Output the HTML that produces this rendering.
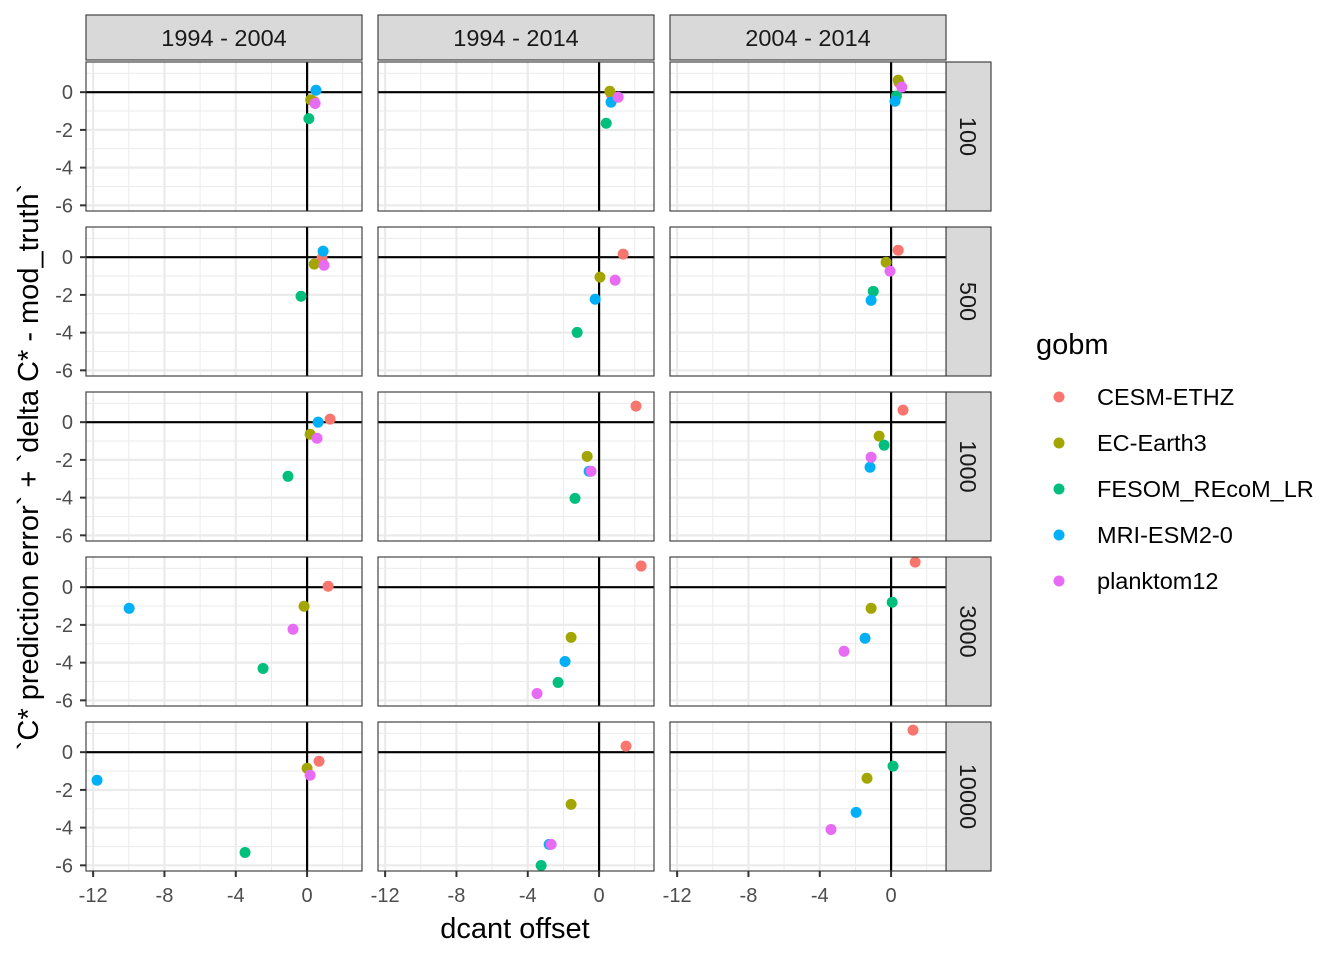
<!DOCTYPE html>
<html><head><meta charset="utf-8"><style>
body{margin:0;background:#fff;}
svg text{font-family:"Liberation Sans",sans-serif;}
</style></head><body>
<svg id="chart" width="1344" height="960" xmlns="http://www.w3.org/2000/svg"></svg>
<script>
const colNames = ["1994 - 2004","1994 - 2014","2004 - 2014"];
const rowNames = ["100","500","1000","3000","10000"];
const seriesNames = ["CESM-ETHZ","EC-Earth3","FESOM_REcoM_LR","MRI-ESM2-0","planktom12"];
const seriesColors = ["#F8766D","#A3A500","#00BF7D","#00B0F6","#E76BF3"];
const xTicks = [-12,-8,-4,0];
const yTicks = [0,-2,-4,-6];
// values[row][col][series] = [x, y]
const row100 = [
 [[0.4,-0.5],[0.2,-0.4],[0.1,-1.4],[0.5,0.1],[0.45,-0.6]],
 [[0.7,-0.15],[0.6,0.05],[0.4,-1.65],[0.67,-0.53],[1.07,-0.27]],
 [[0.45,0.5],[0.4,0.64],[0.3,-0.2],[0.22,-0.48],[0.6,0.27]]];
const row500 = [
 [[0.84,-0.05],[0.4,-0.37],[-0.34,-2.07],[0.9,0.32],[0.95,-0.43]],
 [[1.35,0.16],[0.05,-1.06],[-1.23,-3.99],[-0.22,-2.23],[0.9,-1.22]],
 [[0.4,0.37],[-0.28,-0.27],[-1.0,-1.81],[-1.12,-2.29],[-0.06,-0.74]]];
const row1000 = [
 [[1.29,0.16],[0.17,-0.64],[-1.07,-2.87],[0.62,0],[0.56,-0.85]],
 [[2.07,0.85],[-0.67,-1.81],[-1.35,-4.04],[-0.56,-2.6],[-0.45,-2.6]],
 [[0.67,0.64],[-0.67,-0.74],[-0.39,-1.22],[-1.18,-2.39],[-1.12,-1.86]]];
const row3000 = [
 [[1.18,0.05],[-0.17,-1.01],[-2.47,-4.31],[-9.98,-1.12],[-0.79,-2.23]],
 [[2.36,1.12],[-1.57,-2.66],[-2.3,-5.05],[-1.91,-3.94],[-3.48,-5.64]],
 [[1.35,1.33],[-1.12,-1.12],[0.06,-0.8],[-1.46,-2.71],[-2.64,-3.4]]];
const row10000 = [
 [[0.67,-0.48],[0,-0.85],[-3.48,-5.32],[-11.78,-1.49],[0.17,-1.22]],
 [[1.51,0.32],[-1.57,-2.77],[-3.25,-6.01],[-2.8,-4.89],[-2.69,-4.89]],
 [[1.23,1.17],[-1.35,-1.38],[0.11,-0.74],[-1.96,-3.19],[-3.37,-4.1]]];
const values = [row100,row500,row1000,row3000,row10000];

const NS="http://www.w3.org/2000/svg";
const svg=document.getElementById('chart');
function mk(tag,attrs,parent){const e=document.createElementNS(NS,tag);for(const k in attrs)e.setAttribute(k,attrs[k]);(parent||svg).appendChild(e);return e;}
const colX=[86,378,670], pw=276, rowY=[62,227,392,557,722], ph=149;
const xmin=-12.4, xmax=3.08, ymin=-6.3, ymax=1.6;
function sx(c,v){return colX[c]+(v-xmin)/(xmax-xmin)*pw;}
function sy(r,v){return rowY[r]+(ymax-v)/(ymax-ymin)*ph;}

for(let c=0;c<3;c++){
  const s=mk('rect',{x:colX[c],y:15,width:pw,height:45,fill:'#D9D9D9',stroke:'#333','stroke-width':1.1});
  
  
  const t=mk('text',{x:colX[c]+pw/2,y:46,'text-anchor':'middle','font-size':23.5,fill:'#1A1A1A'});t.textContent=colNames[c];
  
  
}
for(let r=0;r<5;r++){
  const s=mk('rect',{x:946,y:rowY[r],width:45,height:ph,fill:'#D9D9D9',stroke:'#333','stroke-width':1.1});
  
  
  const cx=968,cy=rowY[r]+ph/2;
  const t=mk('text',{x:cx,y:cy,'text-anchor':'middle','dominant-baseline':'central','font-size':23.5,fill:'#1A1A1A',transform:`rotate(90 ${cx} ${cy})`});t.textContent=rowNames[r];
  
  
  for(let c=0;c<3;c++){
    const g=mk('g',{});
    
    
    mk('rect',{x:colX[c],y:rowY[r],width:pw,height:ph,fill:'#fff'},g);
    for(const v of [-10,-6,-2,2]) mk('line',{x1:sx(c,v),x2:sx(c,v),y1:rowY[r],y2:rowY[r]+ph,stroke:'#EBEBEB','stroke-width':1},g);
    for(const v of [1,-1,-3,-5]) mk('line',{x1:colX[c],x2:colX[c]+pw,y1:sy(r,v),y2:sy(r,v),stroke:'#EBEBEB','stroke-width':1},g);
    for(const v of xTicks) mk('line',{x1:sx(c,v),x2:sx(c,v),y1:rowY[r],y2:rowY[r]+ph,stroke:'#EBEBEB','stroke-width':2.2},g);
    for(const v of yTicks) mk('line',{x1:colX[c],x2:colX[c]+pw,y1:sy(r,v),y2:sy(r,v),stroke:'#EBEBEB','stroke-width':2.2},g);
    mk('line',{x1:sx(c,0),x2:sx(c,0),y1:rowY[r],y2:rowY[r]+ph,stroke:'#000','stroke-width':2.2},g);
    mk('line',{x1:colX[c],x2:colX[c]+pw,y1:sy(r,0),y2:sy(r,0),stroke:'#000','stroke-width':2.2},g);
    for(let s2=0;s2<5;s2++){
      const p=values[r][c][s2];
      const pt=mk('circle',{cx:sx(c,p[0]),cy:sy(r,p[1]),r:5.5,fill:seriesColors[s2]},g);
      
      
    }
    mk('rect',{x:colX[c],y:rowY[r],width:pw,height:ph,fill:'none',stroke:'#333','stroke-width':1.1});
  }
  for(const v of yTicks){
    mk('line',{x1:80,x2:86,y1:sy(r,v),y2:sy(r,v),stroke:'#333','stroke-width':2});
    const t=mk('text',{x:73,y:sy(r,v)+7,'text-anchor':'end','font-size':20,fill:'#4D4D4D'});t.textContent=v;
    
    
  }
}
for(let c=0;c<3;c++){
  for(const v of xTicks){
    mk('line',{x1:sx(c,v),x2:sx(c,v),y1:871,y2:877,stroke:'#333','stroke-width':2});
    const t=mk('text',{x:sx(c,v),y:902,'text-anchor':'middle','font-size':20,fill:'#4D4D4D'});t.textContent=v;
    
    
  }
}
const xt=mk('text',{x:515,y:938,'text-anchor':'middle','font-size':29,fill:'#000'});xt.textContent='dcant offset';


const yt=mk('text',{x:38,y:467,'text-anchor':'middle','font-size':29,fill:'#000',transform:'rotate(-90 38 467)'});yt.textContent='`C* prediction error` + `delta C* - mod_truth`';


const lt=mk('text',{x:1036,y:354,'font-size':29,fill:'#000'});lt.textContent='gobm';


for(let s2=0;s2<5;s2++){
  const y=397+s2*46;
  const g=mk('g',{});
  
  
  mk('circle',{cx:1059,cy:y,r:5.5,fill:seriesColors[s2]},g);
  const t=mk('text',{x:1097,y:y+8,'font-size':23.5,fill:'#000'},g);t.textContent=seriesNames[s2];
}
</script>
</body></html>
